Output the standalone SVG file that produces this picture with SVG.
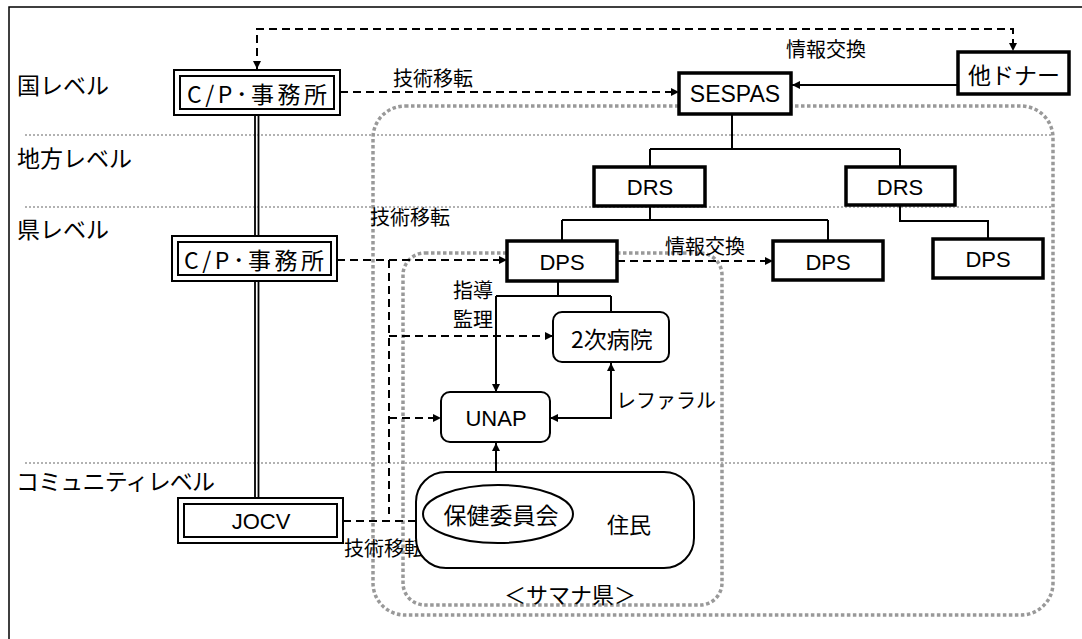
<svg xmlns="http://www.w3.org/2000/svg" width="1082" height="639" viewBox="0 0 1082 639">
<style>
text{font-family:"Liberation Sans","Noto Sans CJK JP",sans-serif;fill:#000;text-anchor:middle;dominant-baseline:central}
.jp{font-family:"Noto Sans CJK JP","Liberation Sans",sans-serif}
.lvl{font-size:23px;text-anchor:start}
.lbl{font-size:20px}
.thick{fill:#fff;stroke:#000;stroke-width:3.5}
.dbl{fill:#fff;stroke:#000;stroke-width:2}
.rnd{fill:#fff;stroke:#000;stroke-width:2}
.ln{fill:none;stroke:#000;stroke-width:2}
.dash{fill:none;stroke:#000;stroke-width:2;stroke-dasharray:8 5}
.lev{fill:none;stroke:#999;stroke-width:1.5;stroke-dasharray:2 2}
.area{fill:none;stroke:#999;stroke-width:3.5;stroke-dasharray:3.5 2.5}
</style>
<defs>
<marker id="ah" markerWidth="10" markerHeight="10" refX="9" refY="5" orient="auto-start-reverse" markerUnits="userSpaceOnUse">
<path d="M1 1 L9 5 L1 9 Z" fill="#000"/>
</marker>
</defs>
<rect width="1082" height="639" fill="#fff"/>
<path d="M9 639 V7 H1082" fill="none" stroke="#000" stroke-width="1.5"/>
<g id="levels">
<path class="lev" d="M25 135 H1052 M25 207 H1052 M25 463 H1052"/>
<text class="lvl jp" x="17" y="84">国レベル</text>
<text class="lvl jp" x="17" y="157">地方レベル</text>
<text class="lvl jp" x="17" y="228">県レベル</text>
<text class="lvl jp" x="16" y="480" font-size="22" textLength="199">コミュニティレベル</text>
</g>
<g id="areas">
<rect class="area" x="373" y="106" width="680" height="509" rx="32"/>
<rect class="area" x="403" y="253" width="319" height="352" rx="22"/>
<text class="jp" x="570" y="593" font-size="22">＜サマナ県＞</text>
</g>
<g id="connectors">
<path d="M255 115 V236 M258.5 115 V236 M255 281 V498 M258.5 281 V498" fill="none" stroke="#000" stroke-width="1.8"/>
<path class="dash" d="M257 69 V29 H1013 V51" marker-start="url(#ah)" marker-end="url(#ah)"/>
<path class="dash" d="M340 92 H679" marker-end="url(#ah)"/>
<path class="ln" d="M958 85 H792" marker-end="url(#ah)"/>
<path class="ln" d="M732 114 V149 M650 149 H900 M650 149 V167 M900 149 V167"/>
<path class="ln" d="M650 206 V220 M562 220 H828 M562 220 V241 M828 220 V241"/>
<path class="ln" d="M900 205 V221 H988 V239"/>
<path class="dash" d="M337 260 H507" marker-end="url(#ah)"/>
<path class="dash" d="M389 260 V514"/>
<path class="dash" d="M389 336 H553" marker-end="url(#ah)"/>
<path class="dash" d="M389 418 H441" marker-end="url(#ah)"/>
<path class="dash" d="M343 521 H423" marker-end="url(#ah)"/>
<path class="dash" d="M617 261 H773" marker-end="url(#ah)"/>
<path class="ln" d="M558 281 V296 M496 296 H611 M611 296 V312"/>
<path class="ln" d="M496 296 V392" marker-end="url(#ah)"/>
<path class="ln" d="M611 363 V418 H550" marker-start="url(#ah)" marker-end="url(#ah)"/>
<path class="ln" d="M496 485 V443" marker-end="url(#ah)"/>
<text class="lbl jp" x="433" y="77">技術移転</text>
<text class="lbl jp" x="826" y="48">情報交換</text>
<text class="lbl jp" x="410" y="216">技術移転</text>
<text class="lbl jp" x="705" y="245">情報交換</text>
<text class="lbl jp" x="473" y="289">指導</text>
<text class="lbl jp" x="473" y="318">監理</text>
<text class="lbl jp" x="666" y="399">レファラル</text>
<text class="lbl jp" x="384" y="547">技術移転</text>
</g>
<g id="cp-national">
<rect class="dbl" x="174" y="70" width="166" height="45"/>
<rect class="dbl" x="180" y="76" width="154" height="33"/>
<text class="jp" x="257" y="93" font-size="23" textLength="140">C/P･事務所</text>
</g>
<g id="cp-province">
<rect class="dbl" x="172" y="236" width="165" height="45"/>
<rect class="dbl" x="178" y="242" width="153" height="33"/>
<text class="jp" x="254" y="259" font-size="23" textLength="140">C/P･事務所</text>
</g>
<g id="jocv">
<rect class="dbl" x="178" y="498" width="165" height="45"/>
<rect class="dbl" x="184" y="504" width="153" height="33"/>
<text x="261" y="521" font-size="22">JOCV</text>
</g>
<g id="sespas">
<rect class="thick" x="679" y="73" width="112" height="41"/>
<text x="735" y="94" font-size="23">SESPAS</text>
</g>
<g id="donor">
<rect class="thick" x="958" y="52" width="111" height="42"/>
<text class="jp" x="1014" y="74" font-size="23">他ドナー</text>
</g>
<g id="drs1">
<rect class="thick" x="594" y="167" width="111" height="39"/>
<text x="650" y="187" font-size="22">DRS</text>
</g>
<g id="drs2">
<rect class="thick" x="846" y="167" width="109" height="38"/>
<text x="900" y="187" font-size="22">DRS</text>
</g>
<g id="dps1">
<rect class="thick" x="507" y="241" width="110" height="40"/>
<text x="562" y="262" font-size="22">DPS</text>
</g>
<g id="dps2">
<rect class="thick" x="773" y="241" width="110" height="39"/>
<text x="828" y="262" font-size="22">DPS</text>
</g>
<g id="dps3">
<rect class="thick" x="933" y="239" width="110" height="39"/>
<text x="988" y="259" font-size="22">DPS</text>
</g>
<g id="hospital">
<rect class="rnd" x="553" y="312" width="116" height="50" rx="9"/>
<text class="jp" x="612" y="338" font-size="23">2次病院</text>
</g>
<g id="unap">
<rect class="rnd" x="441" y="392" width="109" height="50" rx="9"/>
<text x="496" y="418" font-size="22">UNAP</text>
</g>
<g id="residents">
<rect class="rnd" x="416" y="472" width="278" height="96" rx="30"/>
<text class="jp" x="629" y="523" font-size="22">住民</text>
</g>
<g id="committee">
<ellipse class="rnd" cx="498" cy="514" rx="75" ry="29"/>
<text class="jp" x="501" y="514" font-size="23">保健委員会</text>
</g>
</svg>
